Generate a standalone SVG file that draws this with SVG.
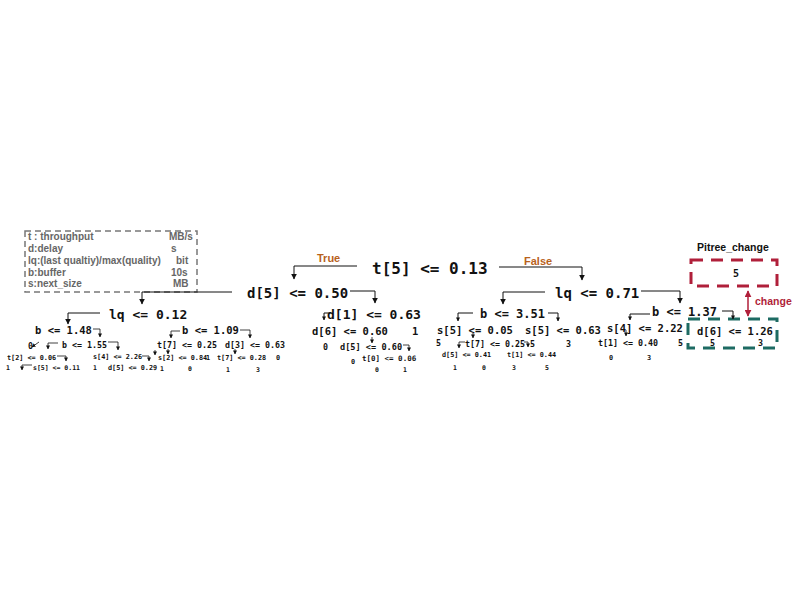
<svg xmlns="http://www.w3.org/2000/svg" width="800" height="600" viewBox="0 0 800 600">
<defs>
<marker id="arr" viewBox="0 0 10 10" refX="9" refY="5" markerWidth="6" markerHeight="6" markerUnits="userSpaceOnUse" orient="auto"><path d="M0,0 L10,5 L0,10 z" fill="#111"/></marker>
<marker id="arrs" viewBox="0 0 10 10" refX="9" refY="5" markerWidth="4" markerHeight="4" markerUnits="userSpaceOnUse" orient="auto"><path d="M0,0 L10,5 L0,10 z" fill="#111"/></marker>
<marker id="arrr" viewBox="0 0 10 10" refX="9" refY="5" markerWidth="7" markerHeight="7" markerUnits="userSpaceOnUse" orient="auto-start-reverse"><path d="M0,0 L10,5 L0,10 z" fill="#b01f3a"/></marker>
<style>
.m{font-family:"DejaVu Sans Mono","Liberation Mono",monospace;font-weight:bold;fill:#111}
.s16{font-size:16px}.s14{font-size:14px}.s13{font-size:13px}.s12{font-size:12px}
.s10{font-size:10.5px}.s8{font-size:8.3px}.s7{font-size:6.8px}.s6{font-size:6.5px}
.lg{font-family:"Liberation Sans",Arial,sans-serif;font-weight:bold;font-size:10px;fill:#666}
.lab{font-family:"Liberation Sans",Arial,sans-serif;font-weight:bold;font-size:11px;fill:#b8621c}
.c{fill:none;stroke:#111;stroke-width:1}
.cs{fill:none;stroke:#111;stroke-width:0.8}
</style>
</defs>
<rect width="800" height="600" fill="#fff"/>

<g id="legend">
<rect x="25" y="231" width="172" height="61" fill="none" stroke="#777" stroke-width="1.5" stroke-dasharray="6,4"/>
<text class="lg" x="28" y="240">t : throughput</text><text class="lg" x="169" y="240">MB/s</text>
<text class="lg" x="28" y="252">d:delay</text><text class="lg" x="171" y="252">s</text>
<text class="lg" x="28" y="264">lq:(last qualtiy)/max(quality)</text><text class="lg" x="176" y="264">bit</text>
<text class="lg" x="28" y="276">b:buffer</text><text class="lg" x="171" y="276">10s</text>
<text class="lg" x="28" y="287">s:next_size</text><text class="lg" x="173" y="287">MB</text>
</g>

<g id="pitree">
<text x="697" y="251" font-family="Liberation Sans,Arial,sans-serif" font-weight="bold" font-size="10.5" fill="#111">Pitree_change</text>
<rect x="691" y="260" width="86" height="26" fill="none" stroke="#b01f3a" stroke-width="3" stroke-dasharray="12,8"/>
<text class="m" x="733" y="277" font-size="10">5</text>
<text x="755" y="305" font-family="Liberation Sans,Arial,sans-serif" font-weight="bold" font-size="10.5" fill="#b01f3a">change</text>
<rect x="688" y="319" width="89" height="29" fill="none" stroke="#1d6b63" stroke-width="3" stroke-dasharray="12,8"/>
</g>

<g id="connectors">
<path class="c" d="M357,266 H294 V279" marker-end="url(#arr)"/>
<path class="c" d="M499,267 H582 V280" marker-end="url(#arr)"/>
<path class="c" d="M232,292 H142 V304" marker-end="url(#arr)"/>
<path class="c" d="M350,291 H375 V303" marker-end="url(#arr)"/>
<path class="c" d="M545,292 H503 V304" marker-end="url(#arr)"/>
<path class="c" d="M641,291 H680 V303" marker-end="url(#arr)"/>
<path class="c" d="M100,313 H68 V324" marker-end="url(#arr)"/>
<path class="c" d="M330,313 H324 V320" marker-end="url(#arrs)"/>
<path class="c" d="M473,313 H458 V321" marker-end="url(#arrs)"/>
<path class="c" d="M548,313 H558 V321" marker-end="url(#arrs)"/>
<path class="c" d="M650,314 H630 V320" marker-end="url(#arrs)"/>
<path class="c" d="M722,311 H733 V319" marker-end="url(#arrs)"/>
<path class="cs" d="M93,329 H100 V337" marker-end="url(#arrs)"/>
<path class="cs" d="M180,331 H171 V338" marker-end="url(#arrs)"/>
<path class="cs" d="M240,330 H250 V338" marker-end="url(#arrs)"/>
<path class="cs" d="M39,342 L32,347" marker-end="url(#arrs)"/>
<path class="cs" d="M58,343 H48 V349" marker-end="url(#arrs)"/>
<path class="cs" d="M108,342 H118 V350" marker-end="url(#arrs)"/>
<path class="cs" d="M57,356 H66 V361" marker-end="url(#arrs)"/>
<path class="cs" d="M142,356 H149 V361" marker-end="url(#arrs)"/>
<path class="cs" d="M32,365 H22 V370" marker-end="url(#arrs)"/>
<path class="cs" d="M155,350 V355" marker-end="url(#arrs)"/>
<path class="cs" d="M168,349 V354" marker-end="url(#arrs)"/>
<path class="cs" d="M235,349 V354" marker-end="url(#arrs)"/>
<path class="cs" d="M473,333 V338" marker-end="url(#arrs)"/>
<path class="cs" d="M465,342 H459 V348" marker-end="url(#arrs)"/>
<path class="cs" d="M524,342 H528 V347" marker-end="url(#arrs)"/>
<path class="cs" d="M372,337 V343" marker-end="url(#arrs)"/>
<path class="cs" d="M403,345 H409 V351" marker-end="url(#arrs)"/>
<path class="cs" d="M626,330 V336" marker-end="url(#arrs)"/>
<line x1="748" y1="291" x2="748" y2="316" stroke="#b01f3a" stroke-width="1.5" marker-start="url(#arrr)" marker-end="url(#arrr)"/>
<text class="lab" x="317" y="262">True</text>
<text class="lab" x="524" y="265">False</text>
</g>

<g id="n-root"><text class="m s16" x="372" y="274">t[5] &lt;= 0.13</text></g>
<g id="n-d5"><text class="m s14" x="247" y="298">d[5] &lt;= 0.50</text></g>
<g id="n-lq71"><text class="m s14" x="555" y="298">lq &lt;= 0.71</text></g>
<g id="n-lq12"><text class="m s13" x="109" y="318.5">lq &lt;= 0.12</text></g>
<g id="n-d1"><text class="m s13" x="327" y="318.5">d[1] &lt;= 0.63</text></g>
<g id="n-b351"><text class="m s12" x="480" y="318">b &lt;= 3.51</text></g>
<g id="n-b137"><text class="m s12" x="652" y="316">b &lt;= 1.37</text></g>

<g id="n-b148"><text class="m s10" x="35" y="334">b &lt;= 1.48</text></g>
<g id="n-b109"><text class="m s10" x="182" y="334">b &lt;= 1.09</text></g>
<g id="n-d6a"><text class="m s10" x="312" y="335">d[6] &lt;= 0.60</text></g>
<g id="n-l1a"><text class="m s10" x="412" y="335">1</text></g>
<g id="n-s505"><text class="m s10" x="437" y="334">s[5] &lt;= 0.05</text></g>
<g id="n-s563"><text class="m s10" x="525" y="334">s[5] &lt;= 0.63</text></g>
<g id="n-s422"><text class="m s10" x="607" y="332">s[4] &lt;= 2.22</text></g>
<g id="n-d6b"><text class="m s10" x="697" y="335">d[6] &lt;= 1.26</text><text class="m s8" x="710" y="345.5">5</text><text class="m s8" x="758" y="345.5">3</text></g>

<g id="row3">
<text class="m s8" x="28" y="349">0</text>
<text class="m s8" x="62" y="348">b &lt;= 1.55</text>
<text class="m s8" x="157" y="348">t[7] &lt;= 0.25</text>
<text class="m s8" x="225" y="348">d[3] &lt;= 0.63</text>
<text class="m s8" x="323" y="350">0</text>
<text class="m" x="340" y="350" font-size="8.6">d[5] &lt;= 0.60</text>
<text class="m s8" x="436" y="346">5</text>
<text class="m s8" x="465" y="347">t[7] &lt;= 0.25</text>
<text class="m s8" x="530" y="347">5</text>
<text class="m s8" x="566" y="347">3</text>
<text class="m s8" x="598" y="346">t[1] &lt;= 0.40</text>
<text class="m s8" x="678" y="346">5</text>
</g>

<g id="row4">
<text class="m s7" x="7" y="359.5">t[2] &lt;= 0.06</text>
<text class="m s7" x="93" y="358.5">s[4] &lt;= 2.26</text>
<text class="m s7" x="158" y="359.5">s[2] &lt;= 0.84</text>
<text class="m s7" x="206" y="359.5">1</text>
<text class="m s7" x="217" y="359.5">t[7] &lt;= 0.28</text>
<text class="m s7" x="276" y="359.5">0</text>
<text class="m s7" x="351" y="363.5">0</text>
<text class="m" x="362" y="360.5" font-size="7.5">t[0] &lt;= 0.06</text>
<text class="m s7" x="442" y="356.5">d[5] &lt;= 0.41</text>
<text class="m s7" x="507" y="356.5">t[1] &lt;= 0.44</text>
<text class="m s7" x="609" y="359.5">0</text>
<text class="m s7" x="647" y="359.5">3</text>
</g>

<g id="row5">
<text class="m s6" x="6" y="369.5">1</text>
<text class="m s6" x="33" y="369.5">s[5] &lt;= 0.11</text>
<text class="m s6" x="93" y="369.5">1</text>
<text class="m s7" x="108" y="369.5">d[5] &lt;= 0.29</text>
<text class="m s6" x="160" y="370.5">1</text>
<text class="m s6" x="188" y="370.5">0</text>
<text class="m s6" x="226" y="371.5">1</text>
<text class="m s6" x="256" y="371.5">3</text>
<text class="m s6" x="375" y="371.5">0</text>
<text class="m s6" x="403" y="371.5">1</text>
<text class="m s6" x="453" y="369.5">1</text>
<text class="m s6" x="482" y="369.5">0</text>
<text class="m s6" x="512" y="369.5">3</text>
<text class="m s6" x="545" y="369.5">5</text>
</g>
</svg>
